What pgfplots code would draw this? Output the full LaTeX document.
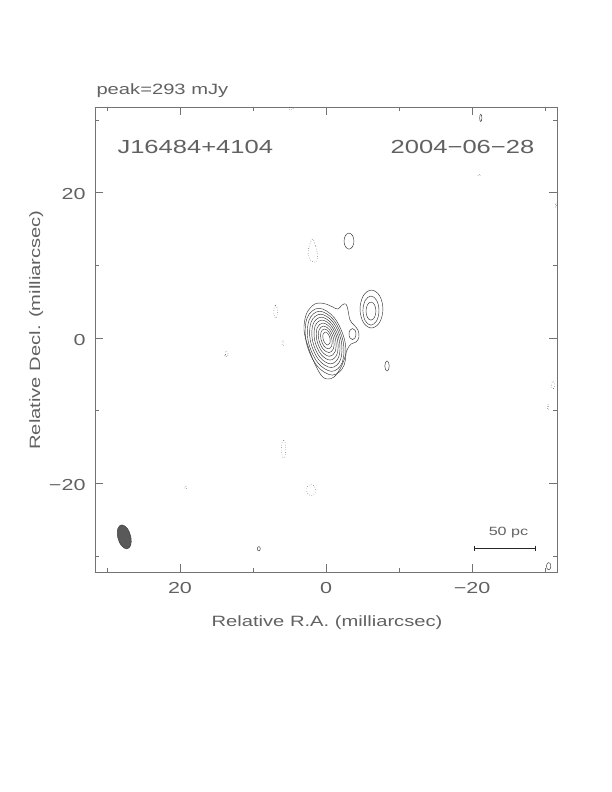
\documentclass[border=0pt]{standalone}
\usepackage{pgfplots}
\pgfplotsset{compat=1.18}
\usepackage{fontspec}
\setmainfont[FakeStretch=1.35]{Liberation Sans}
\definecolor{txt}{gray}{0.38}
\begin{document}
\begin{tikzpicture}[x=1bp,y=1bp]
\useasboundingbox (0,0) rectangle (612bp,792bp);
\begin{axis}[at={(95bp,220bp)}, anchor=south west, scale only axis,
  width=462bp, height=465bp,
  x dir=reverse, xmin=-31.64, xmax=31.64, ymin=-32.2, ymax=31.8,
  xtick={-20,0,20}, xticklabels={−20,0,20},
  ytick={-20,0,20}, yticklabels={−20,0,20},
  minor xtick={-30,-10,10,30}, minor ytick={-30,-10,10,30},
  major tick length=8bp, minor tick length=4bp,
  axis line style={black!55, line width=0.5pt},
  every tick/.style={black!55, line width=0.5pt},
  tick label style={font=\fontsize{16}{18}\selectfont, text=txt},
  xticklabel style={yshift=-7bp}, yticklabel style={xshift=-6bp, yshift=-1.5bp},
  cont/.style={black!80, line width=0.45pt, smooth cycle, tension=0.6, mark=none},
  neg/.style={cont, dotted},
]
% core: outer contour with extension
\addplot[cont] coordinates {(1.92,4.40) (1.10,4.81) (0,4.68) (-0.96,4.26) (-1.64,3.99) (-2.19,4.54) (-2.74,4.68) (-3.01,3.85) (-3.29,2.48) (-3.84,1.79) (-4.38,1.10) (-4.52,0.14) (-4.11,-0.55) (-3.42,-0.83) (-2.88,-1.65) (-2.47,-3.03) (-1.92,-4.26) (-1.10,-5.36) (-0.14,-5.64) (0.68,-5.09) (1.64,-3.30) (2.47,-1.10) (3.01,1.10) (2.74,3.16)};
% nested core contours
\addplot[cont] coordinates {(2.72,-0.5) (2.591,2.752) (0.98,4.1) (-1.171,2.752) (-2.6,-0.5) (-2.471,-3.752) (-0.86,-5.1) (1.291,-3.752)};
\addplot[cont] coordinates {(2.43,-0.445) (2.316,2.478) (0.872,3.69) (-1.056,2.478) (-2.34,-0.445) (-2.226,-3.368) (-0.782,-4.58) (1.146,-3.368)};
\addplot[cont] coordinates {(2.14,-0.39) (2.039,2.205) (0.759,3.28) (-0.951,2.205) (-2.09,-0.39) (-1.989,-2.985) (-0.709,-4.06) (1.001,-2.985)};
\addplot[cont] coordinates {(1.85,-0.34) (1.765,1.929) (0.652,2.87) (-0.837,1.929) (-1.83,-0.34) (-1.745,-2.609) (-0.632,-3.55) (0.857,-2.609)};
\addplot[cont] coordinates {(1.56,-0.28) (1.489,1.664) (0.54,2.47) (-0.731,1.664) (-1.58,-0.28) (-1.509,-2.224) (-0.56,-3.03) (0.711,-2.224)};
\addplot[cont] coordinates {(1.27,-0.225) (1.214,1.39) (0.432,2.06) (-0.618,1.39) (-1.32,-0.225) (-1.264,-1.84) (-0.482,-2.51) (0.568,-1.84)};
\addplot[cont] coordinates {(0.99,-0.175) (0.948,1.115) (0.33,1.65) (-0.502,1.115) (-1.06,-0.175) (-1.018,-1.465) (-0.40,-2.0) (0.432,-1.465)};
\addplot[cont] coordinates {(0.70,-0.12) (0.671,0.842) (0.217,1.24) (-0.397,0.842) (-0.81,-0.12) (-0.781,-1.082) (-0.327,-1.48) (0.287,-1.082)};
\addplot[cont] coordinates {(0.41,-0.065) (0.396,0.568) (0.109,0.83) (-0.282,0.568) (-0.55,-0.065) (-0.536,-0.698) (-0.249,-0.96) (0.142,-0.698)};
% small loop inside the outer contour
\addplot[cont] coordinates {(-3.15,0.55) (-3.291,1.087) (-3.63,1.31) (-3.969,1.087) (-4.11,0.55) (-3.969,0.013) (-3.63,-0.21) (-3.291,0.013)};
% western component
\addplot[cont] coordinates {(-4.66,3.99) (-5.12,5.835) (-6.23,6.60) (-7.34,5.835) (-7.80,3.99) (-7.34,2.145) (-6.23,1.38) (-5.12,2.145)};
\addplot[cont] coordinates {(-5.06,3.78) (-5.382,5.194) (-6.16,5.78) (-6.938,5.194) (-7.26,3.78) (-6.938,2.366) (-6.16,1.78) (-5.382,2.366)};
\addplot[cont] coordinates {(-5.48,3.71) (-5.679,4.587) (-6.16,4.95) (-6.641,4.587) (-6.84,3.71) (-6.641,2.833) (-6.16,2.47) (-5.679,2.833)};
% northern positive blob
\addplot[cont] coordinates {(-2.47,13.34) (-2.669,14.118) (-3.15,14.44) (-3.631,14.118) (-3.83,13.34) (-3.631,12.562) (-3.15,12.24) (-2.669,12.562)};
% small positive blob SW
\addplot[cont, tension=1] coordinates {(-8.06,-3.85) (-8.36,-3.15) (-8.66,-3.85) (-8.36,-4.55)};
% negative (dotted) contours
\addplot[neg] coordinates {(1.82,13.6) (1.4,12.6) (1.15,11.4) (1.25,10.6) (1.7,10.45) (2.2,10.8) (2.45,11.7) (2.25,12.8)};
\addplot[neg, tension=1] coordinates {(7.15,3.6) (6.9,4.5) (6.65,3.6) (6.9,2.7)};
\addplot[neg, tension=1] coordinates {(6.05,-0.7) (5.9,-0.35) (5.75,-0.7) (5.9,-1.05)};
\addplot[neg, tension=1] coordinates {(13.8,-2.2) (13.6,-1.8) (13.4,-2.2) (13.6,-2.6)};
\addplot[neg, tension=1] coordinates {(6.1,-15.3) (5.8,-14.1) (5.5,-15.3) (5.8,-16.5)};
\addplot[neg, tension=1] coordinates {(2.65,-20.9) (2.05,-20.1) (1.45,-20.9) (2.05,-21.7)};
\addplot[neg, tension=1] coordinates {(19.35,-20.6) (19.2,-20.4) (19.05,-20.6) (19.2,-20.8)};
\addplot[neg, tension=1] coordinates {(-20.8,22.4) (-21.0,22.55) (-21.2,22.4) (-21.0,22.25)};
\addplot[neg, tension=1] coordinates {(5.1,31.6) (4.8,31.8) (4.5,31.6) (4.8,31.4)};
\addplot[neg, tension=1] coordinates {(-31.4,18.3) (-31.5,18.6) (-31.6,18.3) (-31.5,18.0)};
\addplot[neg, tension=1] coordinates {(-30.9,-6.5) (-31.1,-6.0) (-31.3,-6.5) (-31.1,-7.0)};
\addplot[neg, tension=1] coordinates {(-30.3,-9.5) (-30.4,-9.1) (-30.5,-9.5) (-30.4,-9.9)};
\addplot[neg, tension=1] coordinates {(13.9,-2.4) (13.8,-2.3) (13.7,-2.4) (13.8,-2.5)};
% tiny positive features
\addplot[cont, tension=1] coordinates {(9.0,-29.0) (9.2,-28.7) (9.4,-29.0) (9.2,-29.3)};
\addplot[cont, tension=1] coordinates {(-21.05,30.3) (-21.2,30.8) (-21.35,30.3) (-21.2,29.8)};
\addplot[cont, tension=1] coordinates {(-30.2,-31.4) (-30.5,-30.9) (-30.8,-31.4) (-30.5,-31.9)};
% beam
\addplot[black!75, fill=black!65, line width=0.5pt, smooth cycle, tension=0.6, mark=none] coordinates {(28.54,-27.37) (28.506,-26.203) (27.96,-25.72) (27.22,-26.203) (26.72,-27.37) (26.754,-28.537) (27.30,-29.02) (28.04,-28.537)};
% scale bar
\addplot[black!85, line width=0.9pt, mark=|, mark size=2.5bp, mark options={line width=0.6pt}] coordinates {(-20.3,-28.9) (-28.7,-28.9)};
\node[text=txt, font=\fontsize{12}{14}\selectfont] at (axis cs:-25.0,-26.8) {50 pc};
\node[text=txt, font=\fontsize{19}{22}\selectfont] at (axis cs:17.9,26.3) {J16484+4104};
\node[text=txt, font=\fontsize{19}{22}\selectfont] at (axis cs:-18.7,26.3) {2004−06−28};
\end{axis}
\node[anchor=base west, text=txt, font=\fontsize{15}{18}\selectfont] at (93bp,697bp) {peak=293 mJy};
\node[anchor=base, text=txt, font=\fontsize{15}{18}\selectfont] at (327bp,165bp) {Relative R.A. (milliarcsec)};
\node[anchor=base, rotate=90, text=txt, font=\fontsize{15}{18}\selectfont] at (40bp,462bp) {Relative Decl. (milliarcsec)};
\end{tikzpicture}
\end{document}
